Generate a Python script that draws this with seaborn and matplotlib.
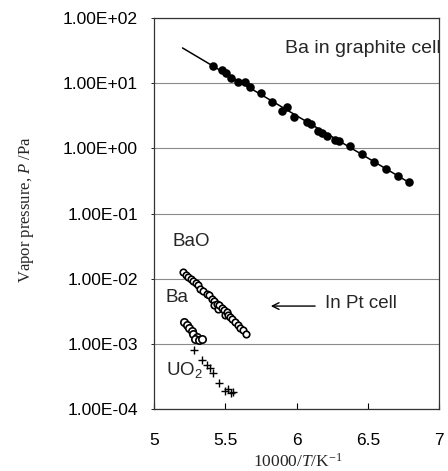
import numpy as np
import pandas as pd
import matplotlib
matplotlib.use("Agg")
import matplotlib.pyplot as plt
import seaborn as sns

# ---- data ----
graphite_x = [5.414, 5.477, 5.505, 5.540, 5.589, 5.639, 5.674, 5.751, 5.826, 5.896,
              5.930, 5.979, 6.072, 6.100, 6.153, 6.179, 6.211, 6.270, 6.295, 6.375,
              6.458, 6.544, 6.628, 6.712, 6.789]
graphite_p = [18.4, 15.9, 14.3, 12.0, 10.5, 10.4, 8.8, 6.95, 5.15, 3.75,
              4.37, 3.0, 2.5, 2.37, 1.87, 1.69, 1.55, 1.35, 1.28, 1.09,
              0.82, 0.61, 0.49, 0.38, 0.30]
fit_x = [5.20, 6.80]
fit_p = [34.7, 0.29]

ba_pt_x = [5.206, 5.225, 5.241, 5.260, 5.276, 5.293, 5.307, 5.323, 5.346, 5.370,
           5.386, 5.405, 5.423, 5.423, 5.440, 5.451, 5.456, 5.475, 5.493, 5.498,
           5.510, 5.522, 5.533, 5.550, 5.568, 5.587, 5.604, 5.627, 5.643]
ba_pt_p = [0.0127, 0.01156, 0.01067, 0.01005, 0.00914, 0.00871, 0.00794, 0.00705, 0.00641, 0.00590,
           0.00557, 0.00495, 0.00451, 0.00401, 0.00415, 0.00348, 0.00392, 0.00356, 0.00328, 0.00275,
           0.00310, 0.00281, 0.00259, 0.00244, 0.00217, 0.00198, 0.00176, 0.00162, 0.00144]

bao_x = [5.211, 5.229, 5.248, 5.265, 5.276, 5.300, 5.288, 5.318, 5.335]
bao_p = [0.00220, 0.00195, 0.00174, 0.00160, 0.00142, 0.00129, 0.00118, 0.00115, 0.00118]

uo2_x = [5.283, 5.335, 5.370, 5.393, 5.416, 5.458, 5.498, 5.521, 5.538, 5.552]
uo2_p = [0.000809, 0.000569, 0.000468, 0.000425, 0.000363, 0.000255, 0.000190, 0.000202, 0.000175, 0.000184]

x_ticks = [5, 5.5, 6, 6.5, 7]
x_ticklabels = ["5", "5.5", "6", "6.5", "7"]
y_ticks = [1e-4, 1e-3, 1e-2, 1e-1, 1e0, 1e1, 1e2]

# ---- style ----
sns.set_theme(style="white")
plt.rcParams["font.family"] = ["Liberation Sans", "DejaVu Sans"]
plt.rcParams["mathtext.fontset"] = "custom"
plt.rcParams["mathtext.default"] = "regular"
plt.rcParams["mathtext.it"] = "Liberation Serif:italic"
plt.rcParams["mathtext.rm"] = "Liberation Serif"
plt.rcParams["mathtext.sf"] = "Liberation Sans"

fig = plt.figure(figsize=(4.48, 4.71), dpi=100)
ax = fig.add_axes([0.3438, 0.1316, 0.6362, 0.8302])

df_g = pd.DataFrame({"x": graphite_x, "p": graphite_p})
df_fit = pd.DataFrame({"x": fit_x, "p": fit_p})
df_ba = pd.DataFrame({"x": ba_pt_x, "p": ba_pt_p})
df_bao = pd.DataFrame({"x": bao_x, "p": bao_p})
df_uo2 = pd.DataFrame({"x": uo2_x, "p": uo2_p})

ax.set_yscale("log")
sns.lineplot(data=df_fit, x="x", y="p", ax=ax, color="black", lw=1.1, zorder=3)
sns.scatterplot(data=df_g, x="x", y="p", ax=ax, color="black", s=38, marker="o",
                edgecolor="black", linewidth=0, zorder=4)
sns.scatterplot(data=df_ba, x="x", y="p", ax=ax, facecolor="white", s=22, marker="o",
                edgecolor="black", linewidth=1.2, zorder=4)
sns.scatterplot(data=df_bao, x="x", y="p", ax=ax, facecolor="white", s=28, marker="o",
                edgecolor="black", linewidth=1.2, zorder=4)
sns.scatterplot(data=df_uo2, x="x", y="p", ax=ax, color="black", s=34, marker="+",
                linewidth=1.0, zorder=4)

ax.set_xlim(5, 7)
ax.set_ylim(1e-4, 1e2)
ax.set_xticks(x_ticks)
ax.set_xticklabels(x_ticklabels)
ax.set_yticks(y_ticks)
ax.set_yticklabels([f"{v:.2E}" for v in y_ticks])
ax.minorticks_off()
ax.tick_params(axis="x", direction="in", length=4, width=0.8, pad=17, labelsize=12.5,
               bottom=True, colors="black")
ax.tick_params(axis="y", direction="out", length=2, width=0.6, pad=9.5, labelsize=12.6,
               left=True, colors="black")

ax.grid(axis="y", color="#8a8a8a", lw=0.8)
ax.grid(axis="x", visible=False)
for side, sp in ax.spines.items():
    sp.set_color("#333333")
    sp.set_linewidth(0.9)

ax.set_xlabel("10000/$\\mathit{T}$/K$^{-1}$", family="Liberation Serif", fontsize=12.5)
ax.set_ylabel("Vapor pressure, $\\mathit{P}$ /Pa", family="Liberation Serif", fontsize=12)
ax.xaxis.set_label_coords(0.505, -0.112)
ax.yaxis.set_label_coords(-0.415, 0.51)

ax.text(5.919, 33.5, "Ba in graphite cell", fontsize=14, va="center", ha="left",
        clip_on=True, zorder=5)
ax.text(5.133, 0.0367, "BaO", fontsize=13.5, va="center", ha="left")
ax.text(5.084, 0.00508, "Ba", fontsize=13.5, va="center", ha="left")
ax.text(5.084, 0.000399, "UO$_\\mathsf{2}$", fontsize=13.5, va="center", ha="left")
ax.text(6.20, 0.00415, "In Pt cell", fontsize=13.5, va="center", ha="left")
ax.annotate("", xy=(5.80, 0.00380), xytext=(6.15, 0.00380),
            arrowprops=dict(arrowstyle="->", lw=1.0, color="black",
                            mutation_scale=12))

fig.savefig("out.png", dpi=100)
